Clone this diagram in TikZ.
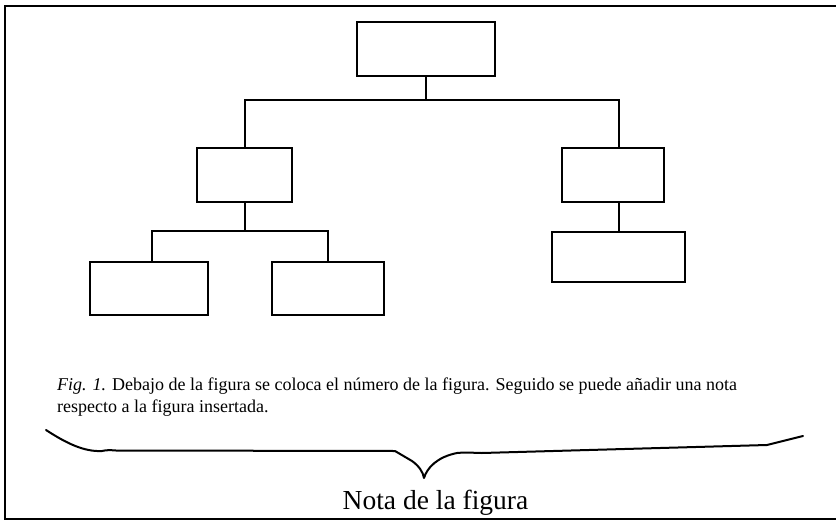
\documentclass[tikz,border=0pt]{standalone}
\usepackage{fontspec}
\setmainfont{Liberation Serif}
\begin{document}
\begin{tikzpicture}[x=1pt,y=-1pt,
  box/.style n args={2}{draw, line width=2pt, inner sep=0pt, minimum width=#1, minimum height=#2},
  conn/.style={line width=2pt},
  frameline/.style={line width=2pt},
  bracecurve/.style={line width=2pt, line cap=round, line join=round},
  captext/.style={anchor=base west, inner sep=0pt, font=\fontsize{18}{22}\selectfont},
  notetext/.style={anchor=base, inner sep=0pt, font=\fontsize{27.5}{30}\selectfont}]
\useasboundingbox (0,0) rectangle (836,522);
% frame (right side lies beyond the picture edge)
\draw[frameline] (840,6) -- (5,6) -- (5,519) -- (840,519);
% boxes
\node[box={138pt}{54pt}] (top) at (426,49) {};
\node[box={95pt}{54pt}]  (lm)  at (244.5,175) {};
\node[box={102pt}{54pt}] (rm)  at (613,175) {};
\node[box={118pt}{53pt}] (bl1) at (149,288.5) {};
\node[box={112pt}{53pt}] (bl2) at (328,288.5) {};
\node[box={133pt}{50pt}] (rb)  at (618.5,257) {};
% connectors
\coordinate (j1) at (426,100);
\coordinate (j2) at (244.5,231);
\coordinate (c1) at (152,231);
\coordinate (c2) at (328,231);
\draw[conn] (top.south) -- (j1);
\draw[conn] (lm.north) |- (j1) -| (rb.north |- rm.north);
\draw[conn] (rm.south -| rb.north) -- (rb.north);
\draw[conn] (lm.south) -- (j2);
\draw[conn] (c1 |- bl1.north) -- (c1) -- (c2) -- (bl2.north);
% caption
\node[captext] (cap1) at (57,390) {\textit{Fig. 1.} Debajo de la figura se coloca el número de la figura. Seguido se puede añadir una nota};
\node[captext] (cap2) at (57,412.5) {respecto a la figura insertada.};
% brace
\draw[bracecurve] (46,430) .. controls (66,443) and (84,452) .. (102,451)
  .. controls (106,450) and (110,450) .. (116,450.5) -- (395,451)
  -- (412,461) .. controls (419,466) and (423,472) .. (424,478)
  .. controls (427,468) and (437,457) .. (457,453)
  .. controls (468,452) and (474,453) .. (482,453) -- (767,445) -- (803,436);
% note
\node[notetext] (nota) at (435.5,509) {Nota de la figura};
\end{tikzpicture}
\end{document}
